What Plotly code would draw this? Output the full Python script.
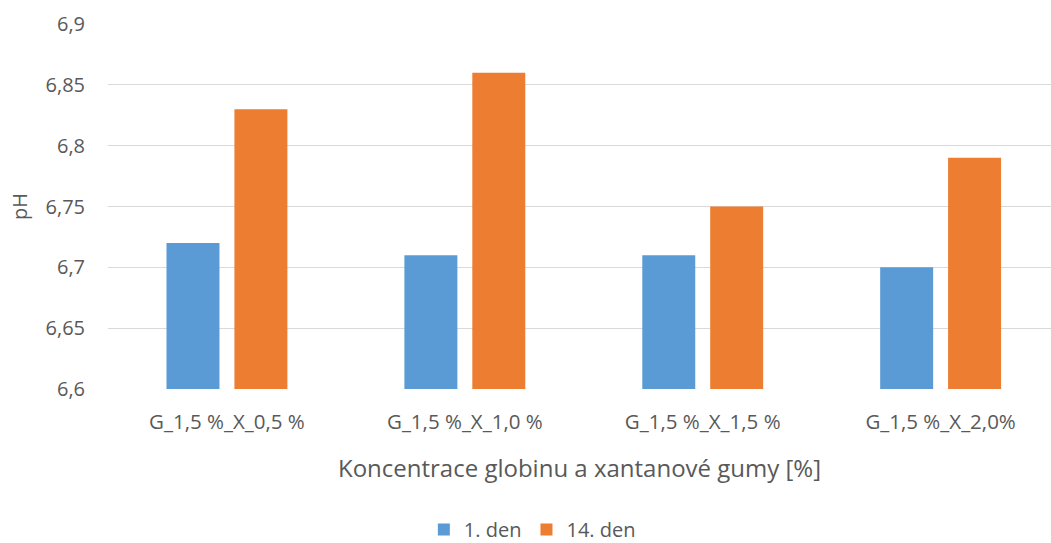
import plotly.graph_objects as go

categories = ["G_1,5 %_X_0,5 %", "G_1,5 %_X_1,0 %", "G_1,5 %_X_1,5 %", "G_1,5 %_X_2,0%"]
den_1 = [6.72, 6.71, 6.71, 6.70]
den_14 = [6.83, 6.86, 6.75, 6.79]
series_names = ["1. den", "14. den"]
y_ticks = [6.6, 6.65, 6.7, 6.75, 6.8, 6.85, 6.9]
Y_BASE = 6.6

FONT = "Open Sans"
GREY = "#595959"

fig = go.Figure()
for name, vals, color in zip(series_names, [den_1, den_14], ["#5B9BD5", "#ED7D31"]):
    # bars start at the bottom of the value axis
    fig.add_trace(go.Bar(x=list(range(len(categories))), y=[v - Y_BASE for v in vals],
                         base=Y_BASE, name=name,
                         marker=dict(color=color, line=dict(width=0)),
                         hoverinfo="skip"))

fig.update_layout(
    width=1051, height=543,
    margin=dict(l=107.5, r=0, t=24.3, b=153.7, autoexpand=False),
    paper_bgcolor="white", plot_bgcolor="white",
    barmode="group", bargap=0.429, bargroupgap=0.22,
    font=dict(family=FONT, color=GREY, size=20),
    showlegend=True,
    legend=dict(orientation="h", x=0.45, xanchor="center", y=-0.385, yanchor="middle",
                font=dict(size=20, color=GREY), itemwidth=30, traceorder="normal",
                tracegroupgap=0, itemclick=False),
    xaxis=dict(
        tickmode="array", tickvals=list(range(len(categories))), ticktext=categories,
        range=[-0.5, 3.464], showgrid=False, zeroline=False, automargin=False,
        showline=False, ticks="", tickfont=dict(size=20.5, color=GREY),
        ticklabelstandoff=18,
        title=dict(text="Koncentrace globinu a xantanové gumy [%]",
                   font=dict(size=24, color=GREY), standoff=26),
    ),
    yaxis=dict(
        range=[6.6, 6.9], tickmode="array", tickvals=y_ticks,
        ticktext=[str(v).replace(".", ",") for v in y_ticks],
        showgrid=True, gridcolor="#D9D9D9", gridwidth=1.3, automargin=False,
        zeroline=False, showline=False, ticks="", ticklabelstandoff=22,
        tickfont=dict(size=20, color=GREY),
        title=dict(text="pH", font=dict(size=20, color=GREY), standoff=12),
    ),
)

fig.write_html("out.html")
